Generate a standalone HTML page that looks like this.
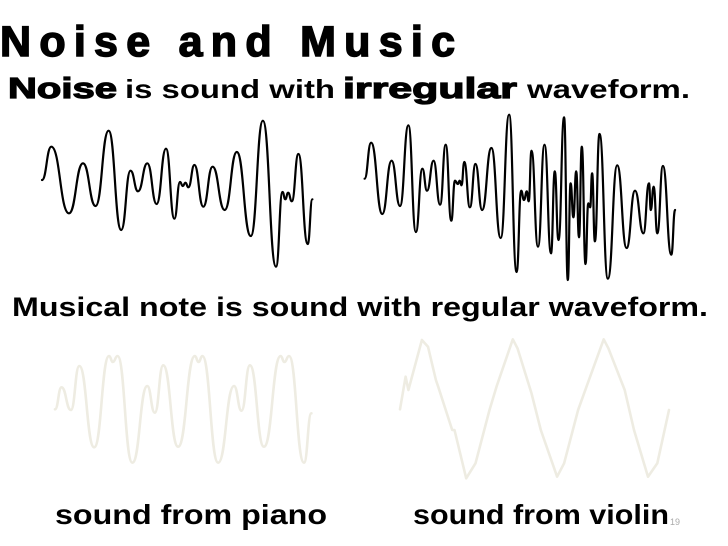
<!DOCTYPE html>
<html><head><meta charset="utf-8"><style>
html,body{margin:0;padding:0;background:#fff;}
svg{display:block;}
text{font-family:"Liberation Sans",Arial,sans-serif;font-weight:bold;fill:#000;}
</style></head><body>
<svg id="slide" width="728" height="546" viewBox="0 0 728 546">
<text x="0" y="56" font-size="43" textLength="455" lengthAdjust="spacing" stroke="#000" stroke-width="1.5">Noise and Music</text>
<text x="8" y="98" font-size="29" textLength="109" lengthAdjust="spacingAndGlyphs" stroke="#000" stroke-width="1.2">Noise</text>
<text x="125" y="98" font-size="26" textLength="210" lengthAdjust="spacingAndGlyphs">is sound with</text>
<text x="343" y="98" font-size="29" textLength="174" lengthAdjust="spacingAndGlyphs" stroke="#000" stroke-width="1.2">irregular</text>
<text x="527" y="98" font-size="26" textLength="163" lengthAdjust="spacingAndGlyphs">waveform.</text>
<text x="12" y="316" font-size="27" textLength="696" lengthAdjust="spacingAndGlyphs">Musical note is sound with regular waveform.</text>
<text x="55" y="524" font-size="28" textLength="272" lengthAdjust="spacingAndGlyphs">sound from piano</text>
<text x="413" y="524" font-size="28" textLength="256" lengthAdjust="spacingAndGlyphs">sound from violin</text>
<text x="670" y="525" font-size="9" style="font-weight:normal;fill:#aaa">19</text>
<g id="waves"></g>
</svg>
<script>
// Waveform extrema: time (arbitrary units) and amplitude (positive = up)
const noise1T=[90,110,148,178,205,233,260,280,296,316,336,356,374,386,392,398,404,417,436,456,482,508,538,564,592,606,612,618,626,640,660,670];
const noise1A=[0,100,-100,50,-78,148,-150,28,-34,50,-72,94,-116,-6,-18,-8,-22,45,-80,40,-90,84,-168,178,-260,-36,-58,-38,-64,78,-192,-58];
const noise2T=[782,796,820,840,858,876,892,906,916,930,944,956,968,976,982,986,990,996,1008,1020,1034,1054,1074,1092,1108,1118,1124,1130,1134,1140,1154,1168,1182,1190,1198,1210,1218,1224,1230,1236,1242,1248,1256,1262,1266,1270,1276,1286,1304,1324,1344,1362,1380,1392,1396,1402,1410,1422,1440,1448];
const noise2A=[4,112,-102,58,-78,164,-156,34,-32,58,-74,106,-122,-2,-12,-2,-16,54,-82,48,-90,96,-174,196,-276,-32,-60,-34,-64,88,-200,106,-220,26,-180,188,-300,-10,-112,26,-172,100,-252,-70,-82,20,-184,138,-296,44,-204,-32,-160,-10,-90,-20,-160,42,-224,-90];
const pianoT=[118,132,152,170,202,234,242,252,284,316,332,350,382,418,426,434,468,502,518,536,566,602,610,620,652,668];
const pianoA=[2,68,0,132,-112,162,144,162,-158,72,-8,134,-110,162,144,162,-158,72,-2,134,-110,162,144,162,-158,-10];
const violinT=[858,870,876,905,918,935,940,970,975,1000,1020,1050,1065,1100,1110,1140,1160,1195,1210,1240,1258,1295,1305,1340,1360,1390,1410,1435];
const violinA=[2,100,60,210,190,90,70,-60,-60,-205,-160,0,70,212,185,50,-60,-200,-160,0,70,212,185,60,-60,-200,-160,0];

const NS='http://www.w3.org/2000/svg';
const g=document.getElementById('waves');
function xs(t){return t/2.145;}
function ys(a,cy){return cy-a/3;}
function smoothPath(T,A,cy){
  let d='M'+xs(T[0]).toFixed(1)+','+ys(A[0],cy).toFixed(1);
  for(let i=1;i<T.length;i++){
    const x0=xs(T[i-1]),y0=ys(A[i-1],cy),x1=xs(T[i]),y1=ys(A[i],cy),m=(x0+x1)/2;
    d+=' C'+m.toFixed(1)+','+y0.toFixed(1)+' '+m.toFixed(1)+','+y1.toFixed(1)+' '+x1.toFixed(1)+','+y1.toFixed(1);
  }
  return d;
}
function linePath(T,A,cy){
  return T.map((t,i)=>(i?'L':'M')+xs(t).toFixed(1)+','+ys(A[i],cy).toFixed(1)).join(' ');
}
function addPath(d,color,w,name){
  const p=document.createElementNS(NS,'path');
  p.setAttribute('d',d);p.setAttribute('fill','none');p.setAttribute('stroke',color);
  p.setAttribute('stroke-width',w);p.setAttribute('stroke-linejoin','round');p.setAttribute('stroke-linecap','round');
  
  
  g.appendChild(p);
}
addPath(smoothPath(noise1T,noise1A,180),'#000',2.2,'noise-waveform-1');
addPath(smoothPath(noise2T,noise2A,180),'#000',2.2,'noise-waveform-2');
addPath(smoothPath(pianoT,pianoA,410),'#eeece2',2.6,'piano-waveform');
addPath(linePath(violinT,violinA,410),'#eeece2',2.6,'violin-waveform');
</script>
</body></html>
